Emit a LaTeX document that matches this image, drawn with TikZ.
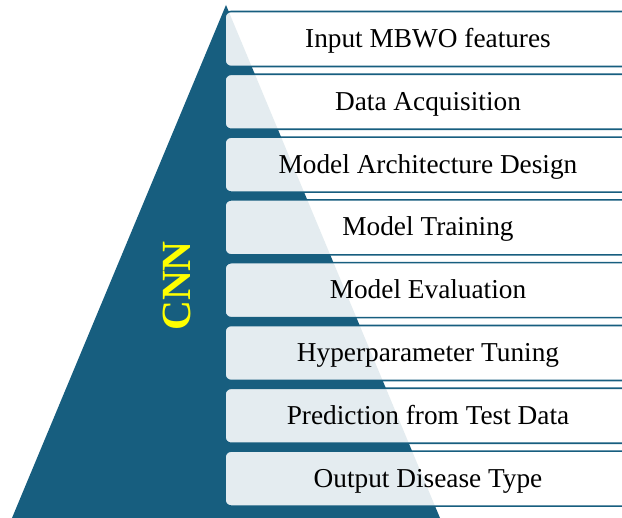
\documentclass[tikz,border=0pt]{standalone}
\usepackage{fontspec}
\setmainfont{Liberation Serif}
\definecolor{pyrblue}{RGB}{23,94,127}
\definecolor{cnnyellow}{RGB}{255,255,0}
\begin{document}
\begin{tikzpicture}[x=1pt,y=-1pt,
  stagebox/.style={draw=pyrblue, line width=1.6pt, fill=white, fill opacity=0.885, text opacity=1,
    rounded corners=6pt, minimum width=406pt, minimum height=55pt, inner sep=0pt,
    font=\fontsize{27.3}{32}\selectfont, text height=24pt, text depth=7pt, text=black}]
\useasboundingbox (0,0) rectangle (622,518);
\clip (0,0) rectangle (622,518);
% pyramid
\fill[pyrblue] (226,5) coordinate (apex) -- (440,518) coordinate (bright) -- (12,518) coordinate (bleft) -- cycle;
% label
\node[rotate=90, text=cnnyellow, font=\fontsize{41.5}{48}\selectfont\bfseries, inner sep=0pt] (cnn) at (177,286) {CNN};
% stages
\node[stagebox] (s1) at (428,39.0) {Input MBWO features};
\node[stagebox] (s2) at (428,101.8) {Data Acquisition};
\node[stagebox] (s3) at (428,164.6) {Model Architecture Design};
\node[stagebox] (s4) at (428,227.4) {Model Training};
\node[stagebox] (s5) at (428,290.2) {Model Evaluation};
\node[stagebox] (s6) at (428,353.0) {Hyperparameter Tuning};
\node[stagebox] (s7) at (428,415.8) {Prediction from Test Data};
\node[stagebox] (s8) at (428,478.6) {Output Disease Type};
\end{tikzpicture}
\end{document}
